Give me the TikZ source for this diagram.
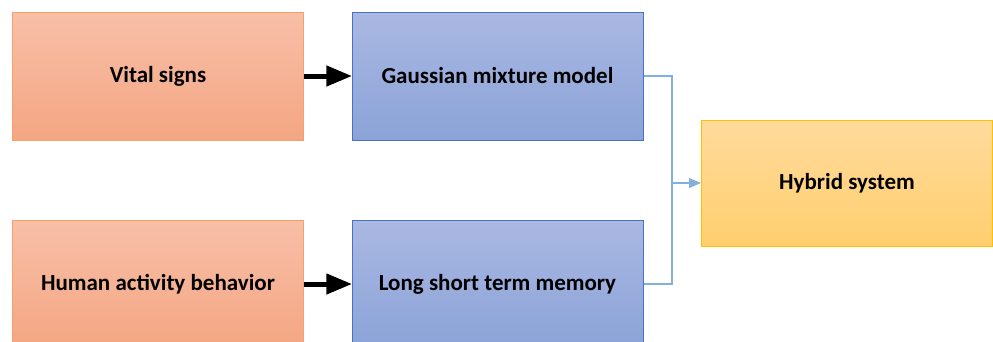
\documentclass[tikz,border=0pt]{standalone}
\usepackage{fontspec}
\setmainfont{Carlito}
\usetikzlibrary{arrows}
\usetikzlibrary{shapes}

\definecolor{orangeTop}{HTML}{F8BFA8}
\definecolor{orangeBot}{HTML}{F4A682}
\definecolor{orangeLine}{HTML}{F4A070}
\definecolor{blueTop}{HTML}{AAB8E2}
\definecolor{blueBot}{HTML}{8BA3D8}
\definecolor{blueLine}{HTML}{4472C4}
\definecolor{yellowTop}{HTML}{FFDA9C}
\definecolor{yellowBot}{HTML}{FFCF6E}
\definecolor{yellowLine}{HTML}{FFC000}
\definecolor{linkBlue}{HTML}{84AEE0}

\begin{document}
\begin{tikzpicture}[x = 1pt, y = -1pt, font=\bfseries\fontsize{23}{26}\selectfont]
\tikzstyle{boxStyle}=[shape = rectangle, minimum width = 291pt, minimum height = 128pt, inner sep = 0pt, line width = 1pt]
\tikzstyle{inputStyle}=[boxStyle, draw = orangeLine, top color = orangeTop, bottom color = orangeBot]
\tikzstyle{modelStyle}=[boxStyle, draw = blueLine, top color = blueTop, bottom color = blueBot]
\tikzstyle{outputStyle}=[boxStyle, minimum height = 126pt, draw = yellowLine, top color = yellowTop, bottom color = yellowBot]
\tikzstyle{feedStyle}=[line width = 5pt, -triangle 45, black]
\tikzstyle{linkStyle}=[line width = 1.8pt, linkBlue]
\clip (0,0) rectangle (993,341);
\node[inputStyle] (s0) at (158,76) {Vital signs};
\node[inputStyle] (s1) at (158,284) {Human activity behavior};
\node[modelStyle] (m0) at (497.5,76) {Gaussian mixture model};
\node[modelStyle] (m1) at (497.5,284) {Long short term memory};
\node[outputStyle] (h0) at (847,183) {Hybrid system};
\coordinate (j0) at (672,183);
\draw[feedStyle] (s0) -- (m0);
\draw[feedStyle] (s1) -- (m1);
\draw[linkStyle] (m0.east) -| (j0);
\draw[linkStyle] (m1.east) -| (j0);
\draw[linkStyle, -triangle 45] (j0) -- (h0.west);
\end{tikzpicture}
\end{document}
